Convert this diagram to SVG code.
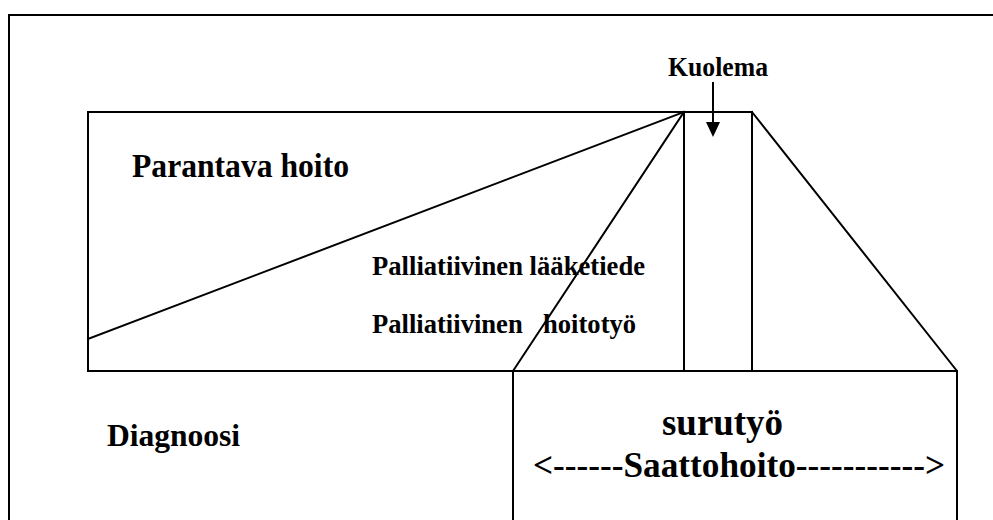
<svg xmlns="http://www.w3.org/2000/svg" width="993" height="520" viewBox="0 0 993 520">
<defs>
<style>
.ln{stroke:#000;stroke-width:2;fill:none;stroke-linecap:square}
.t{font-family:'Liberation Serif','Times New Roman',serif;font-weight:700;fill:#000}
</style>
</defs>
<rect width="993" height="520" fill="#fff"/>
<g id="frame">
<path class="ln" d="M9,520 L9,15 L993,15"/>
</g>
<g id="main-box">
<path class="ln" d="M88,112 L752,112 M88,112 L88,371 L957,371"/>
</g>
<g id="connectors">
<path class="ln" d="M88,339 L684,112"/>
<path class="ln" d="M684,112 L513,371 L513,520"/>
<path class="ln" d="M684,112 L684,371"/>
<path class="ln" d="M752,112 L752,371"/>
<path class="ln" d="M752,112 L957,371 L957,520"/>
<line x1="713" y1="82" x2="713" y2="124" stroke="#000" stroke-width="2"/>
<path d="M706,122 L720,122 L713,137 Z" fill="#000"/>
</g>
<g id="kuolema">
<text class="t" x="668" y="76" font-size="27" textLength="100" lengthAdjust="spacingAndGlyphs">Kuolema</text>
</g>
<g id="parantava">
<text class="t" x="132" y="177" font-size="33.5" textLength="217" lengthAdjust="spacingAndGlyphs">Parantava hoito</text>
</g>
<g id="palliatiivinen-laaketiede">
<text class="t" x="372" y="275" font-size="26.6" textLength="273">Palliatiivinen lääketiede</text>
</g>
<g id="palliatiivinen-hoitotyo">
<text class="t" y="333" font-size="26.6"><tspan x="372">Palliatiivinen</tspan><tspan x="543">hoitotyö</tspan></text>
</g>
<g id="diagnoosi">
<text class="t" x="107" y="446" font-size="31.6" textLength="133">Diagnoosi</text>
</g>
<g id="surutyo">
<text class="t" x="662" y="435" font-size="37.5" textLength="121" lengthAdjust="spacingAndGlyphs">surutyö</text>
</g>
<g id="saattohoito">
<text class="t" x="533" y="477" font-size="36.5" textLength="412" lengthAdjust="spacingAndGlyphs">&lt;------Saattohoito-----------&gt;</text>
</g>
</svg>
